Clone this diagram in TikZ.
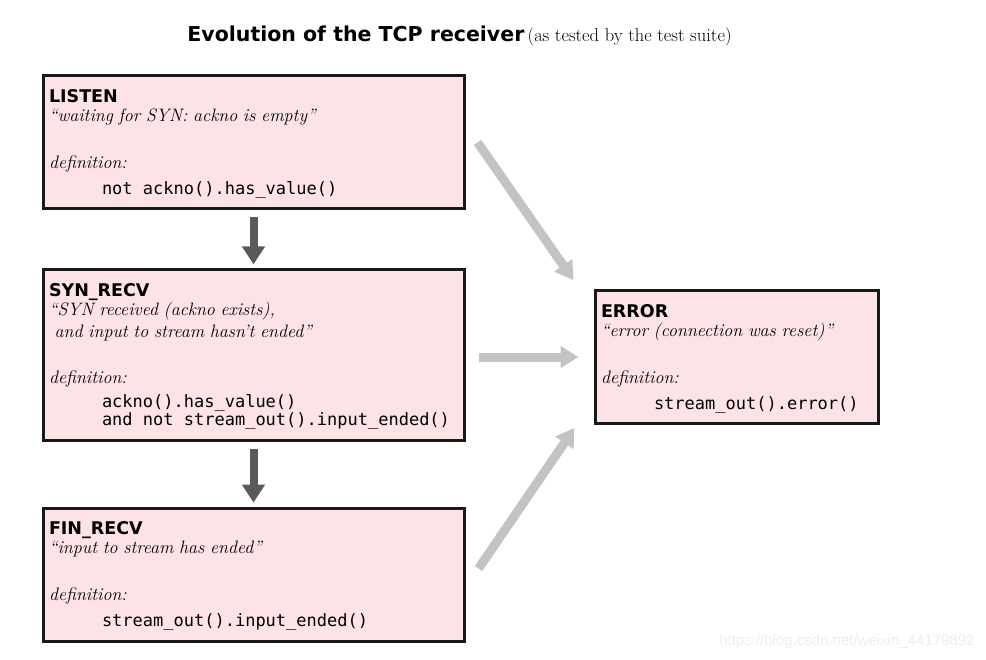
\documentclass[tikz,border=0pt]{standalone}
\usepackage{fontspec}
\setsansfont{DejaVu Sans}
\setmonofont{DejaVu Sans Mono}
\newfontfamily\wmfont{Liberation Sans}
\usetikzlibrary{arrows.meta,calc,positioning}
\definecolor{statefill}{HTML}{FDE3E5}
\definecolor{darkarrow}{HTML}{5A5A5A}
\definecolor{lightarrow}{HTML}{C3C3C3}
\newcommand{\stname}[1]{\rule{0pt}{17.5pt}{\sffamily\bfseries\fontsize{17.5}{18}\selectfont #1}}
\newcommand{\stnote}[1]{{\itshape\fontsize{18}{18}\selectfont #1}}
\newcommand{\stdef}{{\itshape\fontsize{18}{18}\selectfont definition:}}
\newcommand{\stcode}[1]{\hspace*{53pt}{\ttfamily\fontsize{17}{18}\selectfont
  \spaceskip=0.602em\relax \xspaceskip=0.602em\relax \begin{tabular}[t]{@{}l@{}}#1\end{tabular}}}
\tikzset{state/.style={draw=black!90, line width=3pt, fill=statefill, inner xsep=6pt, inner ysep=9pt,
    text width=409pt, align=left, font=\fontsize{17}{18}\selectfont},
  darkpin/.style={-{Triangle[width=22pt,length=18pt]}, line width=8pt, darkarrow, shorten <=7pt, shorten >=4pt},
  lightpin/.style={-{Triangle[width=21pt,length=18pt]}, line width=9pt, lightarrow}}

\begin{document}
\begin{tikzpicture}[x=1pt, y=1pt]
  \useasboundingbox (0,0) rectangle (986,-660);
  % title
  \node (title) at (459.5,-36) {{\sffamily\bfseries\fontsize{20.5}{21}\selectfont Evolution of the TCP receiver}
    {\fontsize{18.5}{20}\selectfont (as tested by the test suite)}};
  % states
  \node[state, anchor=north west] (listen) at (41.5,-74.5) {\stname{LISTEN}\\[1pt]
    \stnote{“waiting for SYN: ackno is empty”}\\[29pt]
    \stdef\\[8pt]
    \stcode{not ackno().has\_value()}};
  \node[state, below=58pt of listen] (synrecv) {\stname{SYN\_RECV}\\[1pt]
    \stnote{“SYN received (ackno exists),}\\[4pt]
    \stnote{\ and input to stream hasn't ended”}\\[28pt]
    \stdef\\[6pt]
    \stcode{ackno().has\_value()\\and not stream\_out().input\_ended()}};
  \node[state, below=65pt of synrecv] (finrecv) {\stname{FIN\_RECV}\\[1pt]
    \stnote{“input to stream has ended”}\\[29pt]
    \stdef\\[8pt]
    \stcode{stream\_out().input\_ended()}};
  \node[state, text width=271pt, right=128pt of synrecv, yshift=-2pt] (error) {\stname{ERROR}\\[1pt]
    \stnote{“error (connection was reset)”}\\[29pt]
    \stdef\\[8pt]
    \stcode{stream\_out().error()}};
  % normal evolution
  \draw[darkpin] (listen) -- (synrecv);
  \draw[darkpin] (synrecv) -- (finrecv);
  % any state can fall into error
  \draw[lightpin] ($(listen.east)+(12pt,0)$) -- ($(error.north west)+(-20pt,9pt)$);
  \draw[lightpin, shorten <=13pt, shorten >=15pt] (synrecv.east |- error.west) -- (error.west);
  \draw[lightpin] ($(finrecv.east)+(13pt,6pt)$) -- ($(error.south west)+(-19pt,-3pt)$);
  % watermark
  \node[font=\wmfont\fontsize{15}{16}\selectfont, text=black!7, anchor=east] (mark) at (978,-642)
    {https://blog.csdn.net/weixin\_44179892};
\end{tikzpicture}
\end{document}
